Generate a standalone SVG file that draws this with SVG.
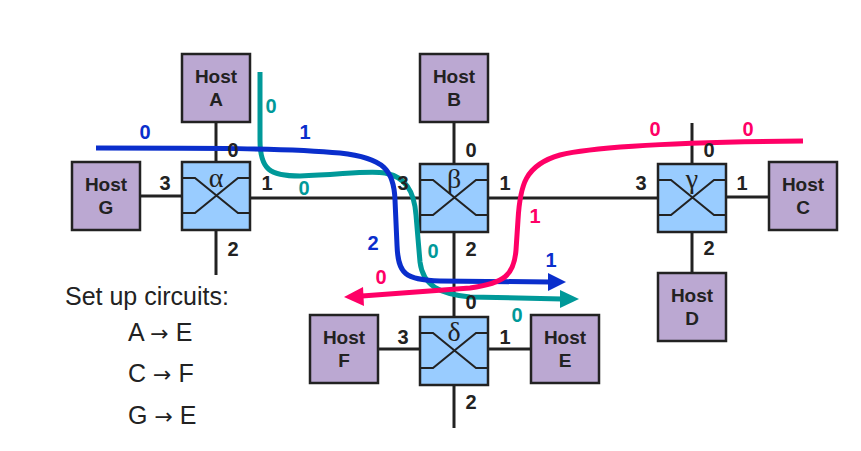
<svg xmlns="http://www.w3.org/2000/svg" width="861" height="451" viewBox="0 0 861 451">
<defs>
<style>
.host{fill:#BBA8D2;stroke:#222;stroke-width:2.5}
.sw{fill:#99CCFF;stroke:#222;stroke-width:2.5}
.link{stroke:#222;stroke-width:3;fill:none}
.x{stroke:#222;stroke-width:2;fill:none}
.ht{font-family:"Liberation Sans",Arial,sans-serif;font-weight:bold;font-size:19px;fill:#222;text-anchor:middle}
.pt{font-family:"Liberation Sans",Arial,sans-serif;font-weight:bold;font-size:20px;fill:#222;text-anchor:middle}
.gk{font-family:"Liberation Serif","Times New Roman",serif;font-size:28px;fill:#222;text-anchor:middle}
.cl{font-family:"Liberation Sans",Arial,sans-serif;font-weight:bold;font-size:20px;text-anchor:middle}
.txt{font-family:"Liberation Sans",Arial,sans-serif;font-size:25px;fill:#222}
.arr{font-family:"DejaVu Sans",sans-serif;font-size:22px}
.blue{stroke:#0A2ECC;fill:none;stroke-width:5}
.teal{stroke:#009999;fill:none;stroke-width:5}
.pink{stroke:#FF0066;fill:none;stroke-width:5}
</style>
</defs>
<g id="links">
<line class="link" x1="216" y1="122" x2="216" y2="162"/>
<line class="link" x1="216" y1="230" x2="216" y2="275"/>
<line class="link" x1="140" y1="196" x2="182" y2="196"/>
<line class="link" x1="250" y1="198" x2="420" y2="198"/>
<line class="link" x1="454" y1="122" x2="454" y2="164"/>
<line class="link" x1="488" y1="198" x2="658" y2="198"/>
<line class="link" x1="454" y1="232" x2="454" y2="317"/>
<line class="link" x1="692" y1="123" x2="692" y2="164"/>
<line class="link" x1="726" y1="197" x2="769" y2="197"/>
<line class="link" x1="692" y1="232" x2="692" y2="273"/>
<line class="link" x1="378" y1="349" x2="420" y2="349"/>
<line class="link" x1="488" y1="349" x2="531" y2="349"/>
<line class="link" x1="454" y1="385" x2="454" y2="428"/>
</g>
<g id="hostA"><rect class="host" x="182" y="54" width="68" height="68"/><text class="ht" x="216" y="83">Host</text><text class="ht" x="216" y="106">A</text></g>
<g id="hostB"><rect class="host" x="420" y="54" width="68" height="68"/><text class="ht" x="454" y="83">Host</text><text class="ht" x="454" y="106">B</text></g>
<g id="hostG"><rect class="host" x="72" y="162" width="68" height="68"/><text class="ht" x="106" y="191">Host</text><text class="ht" x="106" y="214">G</text></g>
<g id="hostC"><rect class="host" x="769" y="162" width="68" height="68"/><text class="ht" x="803" y="191">Host</text><text class="ht" x="803" y="214">C</text></g>
<g id="hostD"><rect class="host" x="658" y="273" width="68" height="68"/><text class="ht" x="692" y="302">Host</text><text class="ht" x="692" y="325">D</text></g>
<g id="hostF"><rect class="host" x="310" y="315" width="68" height="68"/><text class="ht" x="344" y="344">Host</text><text class="ht" x="344" y="367">F</text></g>
<g id="hostE"><rect class="host" x="531" y="315" width="68" height="68"/><text class="ht" x="565" y="344">Host</text><text class="ht" x="565" y="367">E</text></g>
<g id="alpha"><rect class="sw" x="182" y="162" width="68" height="68"/><path class="x" d="M182,178 H195 L238,213 H250 M182,213 H195 L238,178 H250"/><text class="gk" x="216" y="187">α</text></g>
<g id="beta"><rect class="sw" x="420" y="164" width="68" height="68"/><path class="x" d="M420,180 H433 L476,215 H488 M420,215 H433 L476,180 H488"/><text class="gk" x="454" y="188">β</text></g>
<g id="gamma"><rect class="sw" x="658" y="164" width="68" height="68"/><path class="x" d="M658,180 H671 L714,215 H726 M658,215 H671 L714,180 H726"/><text class="gk" x="692" y="188">γ</text></g>
<g id="delta"><rect class="sw" x="420" y="317" width="68" height="68"/><path class="x" d="M420,333 H433 L476,368 H488 M420,368 H433 L476,333 H488"/><text class="gk" x="454" y="341">δ</text></g>
<g id="circuits">
<path class="teal" d="M260,72 L260,140 C260,170 270,176 300,176 C340,175 368,170 385,173 C405,177 414,190 416,215 L420,262 C423,286 440,294 470,297 L562,299"/>
<polygon fill="#009999" points="560,290 579,299 560,308"/>
<path class="blue" d="M96,148 C200,148 290,148 340,153 C384,158 394,170 395,200 L397,245 C398,274 405,280 440,281 L550,282"/>
<polygon fill="#0A2ECC" points="548,273 566,282 548,291"/>
<path class="pink" d="M803,141 C700,142 600,145 560,155 C525,165 520,185 518,220 L516,250 C514,275 505,283 470,288 L362,296"/>
<polygon fill="#FF0066" points="363,287 344,297 364,306"/>
</g>
<g id="portlabels">
<text class="pt" x="233" y="157">0</text>
<text class="pt" x="165" y="190">3</text>
<text class="pt" x="267" y="190">1</text>
<text class="pt" x="233" y="256">2</text>
<text class="pt" x="471" y="157">0</text>
<text class="pt" x="403" y="190">3</text>
<text class="pt" x="505" y="190">1</text>
<text class="pt" x="471" y="256">2</text>
<text class="pt" x="709" y="157">0</text>
<text class="pt" x="641" y="190">3</text>
<text class="pt" x="742" y="190">1</text>
<text class="pt" x="709" y="255">2</text>
<text class="pt" x="471" y="309">0</text>
<text class="pt" x="403" y="344">3</text>
<text class="pt" x="505" y="344">1</text>
<text class="pt" x="471" y="409">2</text>
</g>
<g id="circuitlabels">
<text class="cl" fill="#0A2ECC" x="145" y="139">0</text>
<text class="cl" fill="#0A2ECC" x="305" y="139">1</text>
<text class="cl" fill="#0A2ECC" x="373" y="250">2</text>
<text class="cl" fill="#0A2ECC" x="551" y="267">1</text>
<text class="cl" fill="#009999" x="271" y="113">0</text>
<text class="cl" fill="#009999" x="304" y="195">0</text>
<text class="cl" fill="#009999" x="433" y="258">0</text>
<text class="cl" fill="#009999" x="517" y="322">0</text>
<text class="cl" fill="#FF0066" x="655" y="136">0</text>
<text class="cl" fill="#FF0066" x="748" y="136">0</text>
<text class="cl" fill="#FF0066" x="535" y="223">1</text>
<text class="cl" fill="#FF0066" x="381" y="284">0</text>
</g>
<g id="legend">
<text class="txt" x="65" y="305">Set up circuits:</text>
<text class="txt" x="128" y="341">A <tspan class="arr">→</tspan> E</text>
<text class="txt" x="128" y="382">C <tspan class="arr">→</tspan> F</text>
<text class="txt" x="128" y="424">G <tspan class="arr">→</tspan> E</text>
</g>
</svg>
